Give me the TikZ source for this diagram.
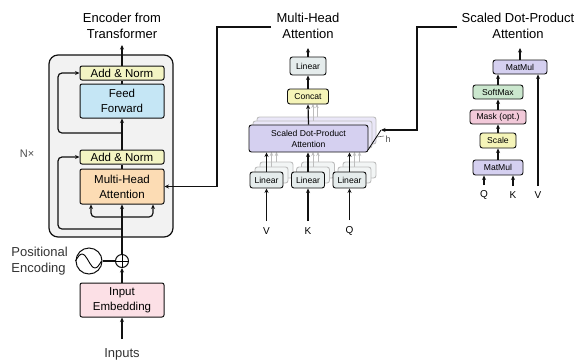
\documentclass[tikz,border=0pt]{standalone}
\usepackage{fontspec}
\setmainfont{Liberation Sans}
\usepackage{tikz}
\usepackage{xcolor}
\usetikzlibrary{arrows.meta,positioning,calc}
\definecolor{ink}{HTML}{111111}
\definecolor{encgray}{HTML}{F2F2F2}
\definecolor{addnorm}{HTML}{F3F4C3}
\definecolor{ffblue}{HTML}{C5E6F5}
\definecolor{mhapeach}{HTML}{FCDCB4}
\definecolor{embpink}{HTML}{FCE0E6}
\definecolor{lingray}{HTML}{E5ECEC}
\definecolor{concatyel}{HTML}{F5F4B8}
\definecolor{sdpapurple}{HTML}{D5D0F0}
\definecolor{softgreen}{HTML}{CBE7CE}
\definecolor{maskpink}{HTML}{F2C9D9}
\definecolor{faded}{HTML}{BDBDBD}
\tikzset{
  encbox/.style={draw=ink, rounded corners=2pt, line width=1pt, minimum width=84pt,
                 align=center, inner sep=0pt, font=\fontsize{11.5}{15}\selectfont},
  minibox/.style={draw=ink, rounded corners=2.5pt, line width=0.9pt, align=center,
                  inner sep=0pt, font=\fontsize{8.6}{11}\selectfont},
  ghostbox/.style={draw=faded, rounded corners=2.5pt, line width=0.9pt, inner sep=0pt},
  title/.style={align=center, inner sep=0pt, font=\fontsize{13}{16}\selectfont},
  arrow/.style={-{Stealth[length=4.5pt,width=4pt]}, line width=1.2pt, draw=ink},
  ghostarrow/.style={-{Stealth[length=4pt,width=3.5pt]}, line width=0.9pt, draw=faded},
  link/.style={line width=1.2pt, draw=ink}
}

\begin{document}
\begin{tikzpicture}[x=1pt,y=-1pt]
  \useasboundingbox (0,0) rectangle (576,360);

  % encoder stack
  \node[draw=ink, fill=encgray, rounded corners=9pt, line width=1.2pt,
        minimum width=124pt, minimum height=182pt] (enc) at (111,146) {};
  \node[title] (enctitle) at (122,26) {Encoder from\\Transformer};
  \node[font=\fontsize{11}{13}\selectfont, text=black!70] (nx) at (27,154) {N×};
  \node[encbox, fill=addnorm, minimum height=14pt] (an2) at (122,73) {Add \& Norm};
  \node[encbox, fill=ffblue, minimum height=34pt] (ff) at (122,101) {Feed\\Forward};
  \node[encbox, fill=addnorm, minimum height=14pt] (an1) at (122,157) {Add \& Norm};
  \node[encbox, fill=mhapeach, minimum height=35pt] (mha) at (122,186.5) {Multi-Head\\Attention};
  \node[encbox, fill=embpink, minimum height=34pt] (emb) at (122,300) {Input\\Embedding};
  \node[title, text=black!80] (inputs) at (122,354) {Inputs};
  \node[draw=ink, circle, line width=1pt, minimum size=26pt, inner sep=0pt] (pe) at (89,261) {};
  \node[draw=ink, circle, line width=1pt, minimum size=13pt, inner sep=0pt] (plus) at (122,261) {};
  \node[title, align=left, anchor=east, text=black!80] (petext) at (68,261) {Positional\\Encoding};
  \coordinate (encout) at (122,45);
  \coordinate (inp) at (122,339);
  \coordinate (split) at (122,217);
  \coordinate (res1) at (122,229);
  \coordinate (res2) at (122,133);

  \draw[line width=0.9pt] (pe.west) sin ++(6.5,-7) cos ++(6.5,7) sin ++(6.5,7) cos ++(6.5,-7);
  \draw[line width=0.9pt] (plus.north) -- (plus.south) (plus.west) -- (plus.east);
  \draw[link] (pe.east) -- (plus.west);
  \draw[arrow] (inp) -- (emb.south);
  \draw[arrow] (emb.north) -- (plus.south);
  \draw[arrow] (plus.north) -- (mha.south);
  \draw[arrow, rounded corners=4pt] (split) -| ([xshift=-31pt]mha.south);
  \draw[arrow, rounded corners=4pt] (split) -| ([xshift=31pt]mha.south);
  \draw[arrow, rounded corners=4pt] (res1) -| (58,157) -- (an1.west);
  \draw[link] (mha.north) -- (an1.south);
  \draw[arrow] (an1.north) -- (ff.south);
  \draw[arrow, rounded corners=4pt] (res2) -| (58,73) -- (an2.west);
  \draw[link] (ff.north) -- (an2.south);
  \draw[arrow] (an2.north) -- (encout);

  % multi-head attention
  \node[title] (mhtitle) at (308,26) {Multi-Head\\Attention};
  \foreach \name/\cx in {v/266.5, k/308, q/349.5} {
    \foreach \k in {2,1} {
      \node[ghostbox, fill=lingray!50, minimum width=33pt, minimum height=16pt]
        (lin\name\k) at (\cx+5*\k, 180-5*\k) {};
    }
  }
  \foreach \k in {2,1} {
    \node[ghostbox, fill=sdpapurple!50, minimum width=119pt, minimum height=27pt]
      (sdpa\k) at (308.5+4*\k, 138.5-4*\k) {};
  }
  \foreach \name/\cx in {v/266.5, k/308, q/349.5} {
    \foreach \k in {1,2} {
      \draw[ghostarrow] (lin\name\k.north) -- (lin\name\k.north |- 0,152);
    }
  }
  \draw[ghostarrow] (sdpa2.north -| 317,0) -- (317,104);
  \draw[ghostarrow] (sdpa1.north -| 313,0) -- (313,104);
  \node[minibox, fill=sdpapurple, minimum width=119pt, minimum height=27pt]
    (sdpa) at (308.5,138.5) {Scaled Dot-Product\\Attention};
  \node[minibox, fill=lingray, minimum width=33pt, minimum height=16pt] (linv) at (266.5,180) {Linear};
  \node[minibox, fill=lingray, minimum width=33pt, minimum height=16pt] (link) at (308,180) {Linear};
  \node[minibox, fill=lingray, minimum width=33pt, minimum height=16pt] (linq) at (349.5,180) {Linear};
  \node[minibox, fill=concatyel, minimum width=41pt, minimum height=15pt] (concat) at (308,96.5) {Concat};
  \node[minibox, fill=lingray, minimum width=36pt, minimum height=18pt] (linout) at (308,66) {Linear};
  \node[font=\fontsize{10}{12}\selectfont] (vlab) at (266.5,231) {V};
  \node[font=\fontsize{10}{12}\selectfont] (klab) at (308,231) {K};
  \node[font=\fontsize{10}{12}\selectfont] (qlab) at (349.5,231) {Q};
  \node[font=\fontsize{9}{11}\selectfont, text=black!70] (hlab) at (388,139) {h};
  \coordinate (mhout) at (308,48);
  \coordinate (hmark) at (381,130);

  \foreach \name in {v,k,q} {
    \draw[arrow] (\name lab.north) ++(0,-3) -- (lin\name.south);
    \draw[arrow] (lin\name.north) -- (lin\name.north |- sdpa.south);
  }
  \draw[arrow] (sdpa.north) -- (concat.south);
  \draw[arrow] (concat.north) -- (linout.south);
  \draw[arrow] (linout.north) -- (mhout);
  \draw[line width=0.8pt] (368,150) -- (hmark);
  \draw[line width=0.6pt, draw=black!60] (377,137) -- (384,136);

  % scaled dot-product attention
  \node[title] (sdtitle) at (518,26) {Scaled Dot-Product\\Attention};
  \node[minibox, fill=sdpapurple, minimum width=54pt, minimum height=14pt] (mmtop) at (520,67) {MatMul};
  \node[minibox, fill=softgreen, minimum width=50pt, minimum height=14pt] (softmax) at (498,92) {SoftMax};
  \node[minibox, fill=maskpink, minimum width=56pt, minimum height=14pt] (mask) at (498,117) {Mask (opt.)};
  \node[minibox, fill=concatyel, minimum width=36pt, minimum height=15pt] (scale) at (498,140.5) {Scale};
  \node[minibox, fill=sdpapurple, minimum width=50pt, minimum height=15pt] (mmbot) at (498,167.5) {MatMul};
  \node[font=\fontsize{10}{12}\selectfont] (qin) at (484,195) {Q};
  \node[font=\fontsize{10}{12}\selectfont] (kin) at (513,195) {K};
  \node[font=\fontsize{10}{12}\selectfont] (vin) at (538,195) {V};
  \coordinate (sdout) at (520,48);

  \draw[arrow] (qin.north) ++(0,-2) -- (qin.north |- mmbot.south);
  \draw[arrow] (kin.north) ++(0,-2) -- (kin.north |- mmbot.south);
  \draw[arrow] (vin.north) ++(0,-2) -- (vin.north |- mmtop.south);
  \draw[arrow] (mmbot.north) -- (scale.south);
  \draw[arrow] (scale.north) -- (mask.south);
  \draw[arrow] (mask.north) -- (softmax.south);
  \draw[arrow] (softmax.north) -- (softmax.north |- mmtop.south);
  \draw[arrow] (mmtop.north) -- (sdout);

  % zoom connectors
  \coordinate (mhtag) at (271,27);
  \coordinate (sdtag) at (457,27);
  \draw[arrow] (mhtag) -- (217,27) |- (mha.east);
  \draw[arrow] (sdtag) -- (417,27) |- (hmark);
\end{tikzpicture}
\end{document}
